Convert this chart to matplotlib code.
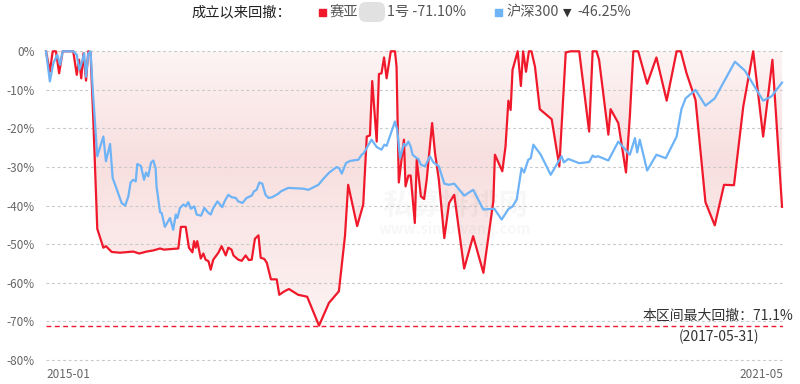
import numpy as np
import matplotlib
matplotlib.use('Agg')
import matplotlib.pyplot as plt
from matplotlib.patches import Polygon, FancyBboxPatch, Rectangle
from matplotlib.colors import LinearSegmentedColormap

plt.rcParams['font.family'] = ['Noto Sans CJK SC', 'DejaVu Sans']

# ---------------- data (days since 2015-01-30, drawdown %) ----------------
fund_days = [0, 12, 21, 31, 41, 52, 85, 96, 103, 110, 117, 125, 132, 139, 148, 160, 179, 187,
             205, 231, 272, 291, 314, 335, 356, 368, 413, 421, 436, 446, 457, 462, 467, 472,
             483, 491, 498, 507, 514, 522, 538, 548, 561, 569, 579, 585, 600, 611, 623, 633,
             642, 652, 663, 670, 681, 689, 702, 720, 728, 744, 758, 787, 815, 852, 883, 914,
             933, 943, 971, 990, 1001, 1011, 1018, 1032, 1039, 1047, 1055, 1063, 1076, 1089,
             1094, 1101, 1117, 1122, 1131, 1138, 1151, 1157, 1170, 1180, 1188, 1198, 1205,
             1214, 1226, 1243, 1258, 1274, 1305, 1333, 1365, 1396, 1401, 1424, 1434, 1443,
             1450, 1456, 1472, 1482, 1489, 1498, 1507, 1515, 1526, 1541, 1578, 1602, 1622,
             1637, 1664, 1695, 1706, 1718, 1726, 1755, 1762, 1786, 1810, 1822, 1833, 1848,
             1876, 1905, 1937, 1968, 1981, 1999, 2027, 2058, 2087, 2116, 2147, 2176, 2207,
             2238, 2267, 2297]
fund_dd = [0.0, -5.3, 0.0, 0.0, -5.7, 0.0, 0.0, -6.1, -2.2, -7.0, -0.5, -7.6, 0.0, -0.3, -18.6,
           -46.0, -50.9, -50.5, -52.0, -52.2, -51.9, -52.4, -51.9, -51.6, -51.1, -51.4, -51.1,
           -45.5, -45.5, -50.9, -52.1, -49.2, -50.9, -49.2, -53.7, -52.4, -54.0, -54.4, -56.6,
           -54.0, -52.2, -50.5, -52.9, -50.9, -51.4, -52.9, -54.0, -54.3, -52.9, -54.1, -54.0,
           -48.6, -47.7, -53.5, -53.8, -54.8, -59.1, -59.1, -63.1, -62.2, -61.6, -63.1, -63.6,
           -71.1, -65.2, -62.2, -47.9, -34.6, -45.3, -39.7, -22.1, -21.8, -7.7, -23.4, -5.9,
           -5.7, -1.6, -7.0, 0.0, 0.0, -4.0, -34.0, -22.9, -35.0, -32.2, -32.2, -44.5, -28.1,
           -37.6, -38.3, -33.3, -24.7, -18.6, -26.4, -33.3, -48.4, -39.3, -37.2, -56.3, -47.9,
           -57.4, -38.9, -26.8, -31.1, -24.7, -12.8, -15.2, -4.8, 0.0, -9.0, 0.0, -5.3, 0.0,
           0.0, -4.0, -15.0, -17.6, -29.8, -0.3, 0.0, 0.0, -20.8, 0.0, 0.0, -2.2, -21.6, -15.0,
           -18.6, -31.4, -16.9, 0.0, 0.0, -8.4, -1.6, -12.8, 0.0, 0.0, -5.7, -12.6, -39.1,
           -45.1, -34.6, -34.7, -14.3, 0.0, -22.1, -2.2, -40.3]

hs_days = [0, 12, 23, 35, 44, 52, 85, 96, 104, 114, 119, 125, 132, 139, 146, 153, 160, 179, 187,
           200, 208, 236, 247, 257, 264, 272, 280, 285, 296, 306, 312, 319, 328, 335, 342, 345,
           356, 361, 371, 387, 397, 405, 410, 418, 429, 436, 444, 452, 463, 470, 484, 494, 507,
           514, 522, 535, 543, 550, 559, 569, 579, 592, 600, 613, 626, 642, 649, 657, 666, 675,
           685, 694, 706, 725, 733, 756, 803, 819, 850, 865, 884, 907, 915, 923, 936, 949, 975,
           985, 992, 1003, 1016, 1032, 1047, 1056, 1063, 1073, 1089, 1096, 1105, 1117, 1123,
           1131, 1138, 1144, 1157, 1162, 1170, 1183, 1198, 1209, 1226, 1243, 1257, 1274, 1305,
           1333, 1365, 1399, 1422, 1443, 1456, 1469, 1484, 1492, 1505, 1513, 1521, 1544, 1575,
           1609, 1616, 1630, 1664, 1695, 1706, 1713, 1723, 1755, 1786, 1822, 1838, 1845, 1853,
           1876, 1905, 1934, 1968, 1983, 1996, 2027, 2058, 2087, 2150, 2181, 2238, 2264, 2297]
hs_dd = [0.0, -7.8, -3.1, -0.9, -3.5, 0.0, 0.0, -0.9, -4.8, -2.2, -0.5, -6.6, -0.5, 0.0, -10.0,
         -18.6, -27.2, -22.1, -28.5, -24.0, -32.8, -39.3, -40.0, -37.6, -34.0, -33.3, -33.7,
         -29.2, -29.7, -33.3, -31.4, -32.4, -28.8, -28.3, -30.3, -35.0, -41.7, -41.9, -45.5,
         -43.2, -46.25, -42.3, -43.2, -40.6, -39.7, -40.2, -39.1, -40.8, -40.2, -42.3, -42.6,
         -40.6, -41.9, -42.3, -40.6, -38.9, -39.7, -40.4, -38.6, -37.2, -37.8, -38.0, -38.9,
         -39.3, -38.0, -37.4, -36.3, -35.9, -34.0, -34.3, -37.2, -38.0, -37.8, -36.9, -36.3,
         -35.4, -35.6, -35.9, -34.6, -33.1, -31.4, -30.0, -30.3, -31.7, -29.0, -28.4, -28.1,
         -26.8, -26.4, -24.7, -22.9, -24.8, -25.5, -24.2, -24.5, -22.1, -18.2, -20.3, -27.7,
         -24.0, -24.5, -23.4, -24.7, -26.8, -27.7, -27.9, -29.4, -29.8, -27.2, -28.8, -29.8,
         -34.3, -34.6, -34.3, -37.4, -35.9, -41.0, -40.8, -43.6, -40.9, -40.2, -38.4, -30.3,
         -31.4, -28.1, -27.7, -24.2, -26.8, -32.0, -27.2, -28.8, -27.9, -29.0, -28.7, -27.0,
         -27.4, -27.2, -28.3, -23.4, -26.8, -22.5, -26.2, -22.9, -30.9, -26.8, -27.7, -22.1,
         -15.0, -12.2, -10.0, -14.1, -12.2, -2.7, -5.0, -12.8, -11.7, -8.1]

y_ticks = [0, -10, -20, -30, -40, -50, -60, -70, -80]
x_tick_labels = ['2015-01', '2021-05']
legend_title = '成立以来回撤：'
fund_name_a, fund_name_b = '赛亚', '1号'
fund_max_dd = -71.10
hs_name = '沪深300'
hs_max_dd = -46.25
max_dd_value = 71.1
max_dd_date = '2017-05-31'
x_max = 2300

RED = '#f0192b'
BLUE = '#6db3f6'

# ---------------- figure ----------------
W, H = 800, 384
fig = plt.figure(figsize=(W / 100, H / 100), dpi=100)
left, right, top, bottom = 46, 783, 51.3, 360
ax = fig.add_axes([left / W, 1 - bottom / H, (right - left) / W, (bottom - top) / H])
ax.set_xlim(0, x_max)
ax.set_ylim(-80, 0)
for s in ax.spines.values():
    s.set_visible(False)

# grid
for yv in y_ticks:
    ax.axhline(yv, color='#c8c8c8', lw=0.8, ls=(0, (2.5, 2.5)), zorder=2, clip_on=False)

# gradient area between fund line and 0
verts = [(fund_days[0], 0)] + list(zip(fund_days, fund_dd)) + [(fund_days[-1], 0)]
poly = Polygon(verts, closed=True, facecolor='none', edgecolor='none')
ax.add_patch(poly)
cmap = LinearSegmentedColormap.from_list(
    'g', [(0, '#fdf4f4'), (0.35, '#f8dfdf'), (0.7, '#fbebeb'), (1.0, '#fefafa')])
grad = np.linspace(0, 1, 256).reshape(-1, 1)
im = ax.imshow(grad, extent=[0, x_max, -80, 0], origin='upper', aspect='auto',
               cmap=cmap, zorder=1, interpolation='bilinear')
im.set_clip_path(poly)

# max drawdown reference line
ax.axhline(fund_max_dd, color=RED, lw=1.0, ls=(0, (3.5, 2.5)), zorder=2.5)

# watermark
ax.text(0.555, 0.50, '私募排排网', transform=ax.transAxes, ha='center', va='center',
        fontsize=21, fontweight='bold', color='#000000', alpha=0.03, zorder=2.2)
ax.text(0.555, 0.425, 'www.simuwang.com', transform=ax.transAxes, ha='center', va='center',
        fontsize=10.5, fontweight='bold', color='#000000', alpha=0.03, zorder=2.2)

# series
ax.plot(fund_days, fund_dd, color=RED, lw=1.6, zorder=4, clip_on=False, solid_joinstyle='round')
ax.plot(hs_days, hs_dd, color=BLUE, lw=1.6, zorder=5, clip_on=False, solid_joinstyle='round')

# ticks
ax.set_yticks(y_ticks)
ax.set_yticklabels([f'{v}%' for v in y_ticks])
ax.tick_params(axis='y', length=0, pad=8, labelsize=8.5, labelcolor='#666666')
ax.set_xticks([])
ax.text(0, -0.025, x_tick_labels[0], transform=ax.get_xaxis_transform(), ha='left', va='top',
        fontsize=8.5, color='#666666')
ax.text(x_max, -0.025, x_tick_labels[1], transform=ax.get_xaxis_transform(), ha='right', va='top',
        fontsize=8.5, color='#666666')

# annotation
ov = fig.add_axes([0, 0, 1, 1], zorder=10)
ov.set_xlim(0, W)
ov.set_ylim(H, 0)
ov.axis('off')
ov.patch.set_alpha(0)
ov.text(793, 316, f'本区间最大回撤：{max_dd_value}%', ha='right', va='center',
        fontsize=10, color='#333333')
ov.text(719, 337, f'({max_dd_date})', ha='center', va='center', fontsize=10, color='#333333')

# legend
ov.text(192, 12, legend_title, ha='left', va='center', fontsize=10.3, color='#222222')
ov.add_patch(Rectangle((319, 8.5), 7, 7, color=RED))
ov.text(330, 12, fund_name_a, ha='left', va='center', fontsize=10.3, color='#555555')
ov.add_patch(FancyBboxPatch((361, 4), 22, 16, boxstyle='round,pad=2,rounding_size=7',
                            facecolor='#dcdcdc', edgecolor='none', alpha=0.85))
ov.text(387, 12, f'{fund_name_b} {fund_max_dd:.2f}%', ha='left', va='center',
        fontsize=10.3, color='#555555')
ov.add_patch(Rectangle((495, 8.5), 7, 7, color=BLUE))
ov.text(506, 12, hs_name, ha='left', va='center', fontsize=10.3, color='#555555')
ov.text(567, 12.5, '▼', ha='center', va='center', fontsize=8, color='#333333',
        family='DejaVu Sans')
ov.text(577, 12, f'{hs_max_dd:.2f}%', ha='left', va='center', fontsize=10.3, color='#555555')

fig.savefig('out.png', dpi=100)
